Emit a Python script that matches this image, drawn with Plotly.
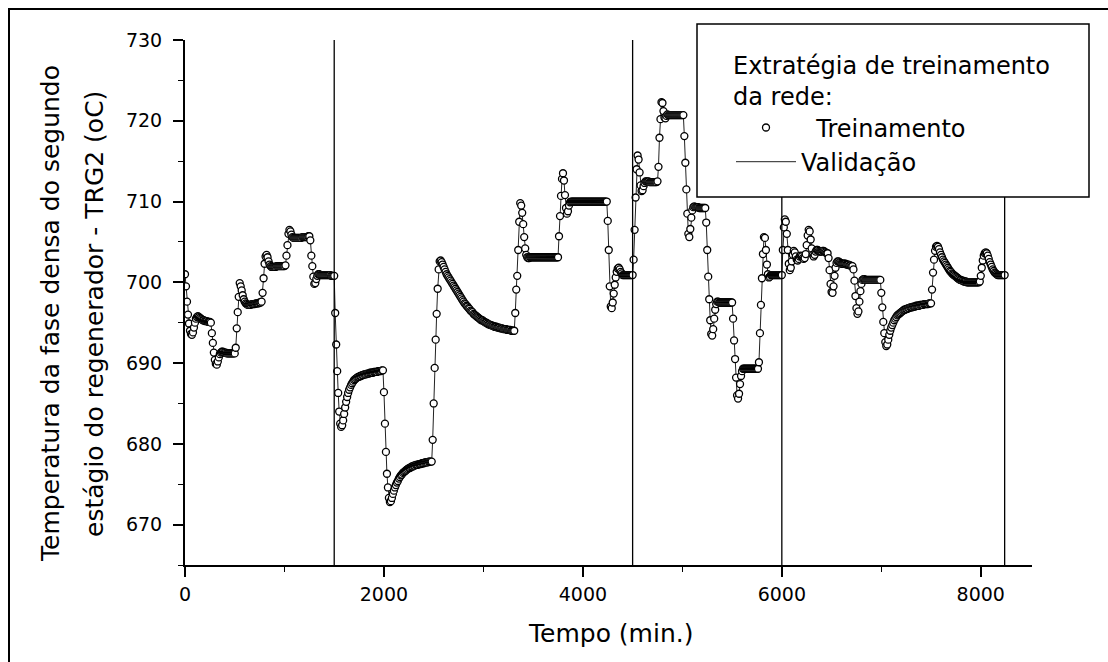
import plotly.graph_objects as go

# sampling interval of the series (minutes)
STEP = 10

# ---- series values (degC), one value every STEP min ----
seg1_start = 0
seg1 = [
    701.0, 699.5, 697.6, 696.0, 694.9, 694.0, 693.6, 693.5, 693.8, 694.4,
    695.0, 695.5, 695.7, 695.8, 695.7, 695.6, 695.5, 695.4, 695.3, 695.3,
    695.2, 695.2, 695.2, 695.1, 695.1, 695.1, 695.0, 693.7, 692.5, 691.3,
    690.4, 689.9, 689.8, 690.2, 690.7, 691.1, 691.3, 691.4, 691.4, 691.3,
    691.3, 691.3, 691.2, 691.2, 691.2, 691.2, 691.2, 691.2, 691.2, 691.2,
    691.2, 691.9, 694.3, 696.3, 698.2, 699.9, 699.5, 699.0, 698.4, 697.9,
    697.6, 697.4, 697.3, 697.2, 697.2, 697.2, 697.2, 697.3, 697.3, 697.3,
    697.3, 697.4, 697.4, 697.4, 697.4, 697.5, 697.5, 697.6, 698.7, 700.5,
    702.3, 703.2, 703.4, 703.1, 702.6, 702.2, 702.0, 701.9, 701.9, 701.9,
    701.9, 701.9, 702.0, 702.0, 702.0, 702.0, 702.0, 702.0, 702.0, 702.0,
    702.0, 702.1, 703.3, 704.6, 706.0, 706.5, 706.3, 705.9, 705.6, 705.5,
    705.5, 705.5, 705.5, 705.5, 705.5, 705.5, 705.5, 705.5, 705.6, 705.6,
    705.6, 705.6, 705.6, 705.6, 705.7, 705.7, 705.2, 703.3, 702.0, 700.7,
    699.8, 699.9, 700.4, 700.8, 701.0, 701.0, 700.9, 700.9, 700.9, 700.9,
    700.9, 700.9, 700.9, 700.9, 700.9, 700.9, 700.9, 700.8, 700.8, 700.8,
]

seg2_start = 1500
seg2 = [
    700.8, 696.2, 692.3, 689.0, 686.3, 684.0, 682.5, 682.1, 682.3, 682.9,
    683.7, 684.5, 685.2, 685.8, 686.3, 686.7, 687.0, 687.3, 687.5, 687.7,
    687.9, 688.0, 688.1, 688.2, 688.3, 688.3, 688.4, 688.4, 688.5, 688.5,
    688.6, 688.6, 688.6, 688.7, 688.7, 688.7, 688.8, 688.8, 688.8, 688.8,
    688.9, 688.9, 688.9, 688.9, 689.0, 689.0, 689.0, 689.0, 689.1, 689.1,
    686.4, 682.5, 679.0, 676.3, 674.6, 673.3, 672.8, 672.9, 673.3, 673.8,
    674.2, 674.6, 674.9, 675.2, 675.4, 675.7, 675.9, 676.1, 676.2, 676.4,
    676.5, 676.6, 676.7, 676.8, 676.9, 677.0, 677.0, 677.1, 677.2, 677.2,
    677.3, 677.3, 677.4, 677.4, 677.4, 677.5, 677.5, 677.5, 677.6, 677.6,
    677.6, 677.7, 677.7, 677.7, 677.7, 677.8, 677.8, 677.8, 677.8, 680.5,
    685.0, 689.4, 692.9, 696.1, 699.2, 701.6, 702.6, 702.7, 702.5, 702.2,
    701.9, 701.6, 701.3, 701.0, 700.8, 700.6, 700.4, 700.2, 700.0, 699.8,
    699.6, 699.4, 699.2, 699.0, 698.8, 698.6, 698.4, 698.2, 698.0, 697.8,
    697.6, 697.4, 697.3, 697.1, 697.0, 696.8, 696.7, 696.5, 696.4, 696.3,
    696.1, 696.0, 695.9, 695.8, 695.7, 695.6, 695.5, 695.4, 695.3, 695.3,
    695.2, 695.1, 695.0, 695.0, 694.9, 694.8, 694.8, 694.7, 694.7, 694.6,
    694.6, 694.5, 694.5, 694.5, 694.4, 694.4, 694.4, 694.3, 694.3, 694.3,
    694.2, 694.2, 694.2, 694.2, 694.1, 694.1, 694.1, 694.1, 694.0, 694.0,
    694.0, 694.0, 696.2, 699.1, 700.8, 704.0, 707.5, 709.8, 709.5, 708.6,
    707.2, 705.6, 704.2, 703.4, 703.1, 703.0, 703.0, 703.1, 703.1, 703.1,
    703.1, 703.1, 703.1, 703.1, 703.1, 703.1, 703.1, 703.1, 703.1, 703.1,
    703.1, 703.1, 703.1, 703.1, 703.1, 703.1, 703.1, 703.1, 703.1, 703.1,
    703.1, 703.1, 703.1, 703.1, 703.1, 703.1, 705.7, 708.2, 710.7, 712.8,
    713.5, 712.6, 710.8, 709.2, 708.5, 708.8, 709.5, 709.9, 710.0, 710.0,
    710.0, 710.0, 710.0, 710.0, 710.0, 710.0, 710.0, 710.0, 710.0, 710.0,
    710.0, 710.0, 710.0, 710.0, 710.0, 710.0, 710.0, 710.0, 710.0, 710.0,
    710.0, 710.0, 710.0, 710.0, 710.0, 710.0, 710.0, 710.0, 710.0, 710.0,
    710.0, 710.0, 710.0, 710.0, 710.0, 707.6, 704.0, 699.5, 697.0, 696.8,
    697.5, 698.6, 699.7, 700.6, 701.3, 701.7, 701.8, 701.6, 701.3, 701.1,
    700.9, 700.9, 700.9, 700.9, 700.9, 700.9, 700.9, 700.9, 700.9, 700.9,
]

seg3_start = 4500
seg3 = [
    700.9, 702.8, 706.5, 710.5, 714.0, 715.7, 715.2, 713.6, 712.0, 711.3,
    711.4, 711.9, 712.3, 712.5, 712.5, 712.5, 712.5, 712.4, 712.4, 712.4,
    712.4, 712.4, 712.4, 712.4, 712.4, 712.5, 714.3, 717.9, 720.2, 722.3,
    722.2, 721.2, 720.4, 720.3, 720.6, 720.8, 720.7, 720.7, 720.7, 720.7,
    720.7, 720.7, 720.7, 720.7, 720.7, 720.7, 720.7, 720.7, 720.7, 720.7,
    720.7, 720.7, 718.1, 714.8, 711.5, 708.5, 706.0, 705.6, 706.6, 708.0,
    708.9, 709.3, 709.4, 709.3, 709.3, 709.3, 709.3, 709.2, 709.2, 709.2,
    709.2, 709.2, 709.2, 709.2, 707.4, 704.0, 700.7, 697.9, 695.3, 693.6,
    693.4, 694.2, 695.5, 696.6, 697.3, 697.6, 697.6, 697.5, 697.5, 697.5,
    697.5, 697.5, 697.5, 697.5, 697.5, 697.5, 697.5, 697.5, 697.5, 697.5,
    697.5, 695.5, 692.8, 690.5, 688.2, 686.0, 685.6, 686.2, 687.4, 688.4,
    689.0, 689.3, 689.3, 689.3, 689.3, 689.3, 689.3, 689.3, 689.3, 689.3,
    689.3, 689.3, 689.3, 689.3, 689.3, 689.3, 689.3, 690.1, 693.7, 697.2,
    700.5, 703.5, 705.6, 705.5, 704.0, 702.2, 701.0, 700.6, 700.7, 700.9,
    700.9, 700.9, 700.9, 700.9, 700.9, 700.9, 700.9, 700.9, 700.9, 700.9,
]

seg4_start = 6000
seg4 = [
    700.9, 704.0, 706.8, 707.8, 707.5, 706.0, 704.0, 702.3, 701.5, 701.8,
    702.6, 703.4, 703.9, 703.7, 703.2, 702.8, 702.7, 702.9, 703.2, 703.3,
    703.2, 703.0, 702.9, 703.0, 703.5, 704.6, 705.8, 706.5, 706.3, 705.3,
    704.2, 703.4, 703.2, 703.4, 703.8, 704.0, 704.0, 703.9, 703.8, 703.8,
    703.8, 703.9, 703.9, 703.8, 703.7, 703.6, 703.6, 703.0, 701.5, 699.8,
    698.8, 698.7, 699.5, 700.8, 701.8, 702.4, 702.6, 702.6, 702.5, 702.4,
    702.3, 702.3, 702.3, 702.3, 702.3, 702.2, 702.2, 702.2, 702.1, 702.1,
    702.0, 702.0, 701.6, 700.2, 698.3, 696.8, 696.1, 696.4, 697.6, 698.9,
    699.8, 700.3, 700.4, 700.4, 700.3, 700.3, 700.3, 700.3, 700.3, 700.3,
    700.3, 700.3, 700.3, 700.3, 700.3, 700.3, 700.3, 700.3, 700.3, 700.3,
    698.7, 696.9, 695.1, 693.7, 692.6, 692.1, 692.3, 692.9, 693.5, 694.0,
    694.4, 694.7, 695.0, 695.3, 695.5, 695.7, 695.9, 696.0, 696.1, 696.2,
    696.3, 696.4, 696.5, 696.6, 696.6, 696.7, 696.7, 696.8, 696.8, 696.9,
    696.9, 696.9, 697.0, 697.0, 697.0, 697.1, 697.1, 697.1, 697.1, 697.2,
    697.2, 697.2, 697.2, 697.3, 697.3, 697.3, 697.3, 697.3, 697.4, 697.4,
    697.4, 699.1, 701.2, 702.8, 703.9, 704.4, 704.5, 704.4, 704.1, 703.7,
    703.4, 703.1, 702.8, 702.6, 702.4, 702.2, 702.0, 701.8, 701.6, 701.4,
    701.3, 701.1, 701.0, 700.9, 700.8, 700.7, 700.6, 700.5, 700.4, 700.3,
    700.3, 700.2, 700.2, 700.1, 700.1, 700.1, 700.0, 700.0, 700.0, 700.0,
    700.0, 700.0, 700.0, 700.0, 700.0, 700.0, 700.0, 700.0, 700.0, 700.1,
    700.8, 701.8, 702.7, 703.3, 703.6, 703.7, 703.6, 703.3, 702.9, 702.5,
    702.2, 701.9, 701.6, 701.4, 701.2, 701.1, 701.0, 700.9, 700.9, 700.9,
    700.9, 700.9, 700.9, 700.9, 700.9,
]

# vertical separators between training / validation stretches (min)
boundaries = [1500, 4500, 6000, 8240]

x_tick_vals = [0, 2000, 4000, 6000, 8000]
x_tick_text = ["0", "2000", "4000", "6000", "8000"]
y_tick_vals = [670, 680, 690, 700, 710, 720, 730]
y_tick_text = ["670", "680", "690", "700", "710", "720", "730"]

x_range = [0, 8515]
y_range = [665, 730]

name_train = "\u00a0\u00a0Treinamento"
name_valid = "Validação"
legend_title = "Extratégia de treinamento<br>da rede:"
x_title = "Tempo (min.)"
y_title_1 = "Temperatura da fase densa do segundo"
y_title_2 = "estágio do regenerador - TRG2 (oC)"

# ---- build the time axis for each stretch ----
t, temp = [], []
for start, vals in [(seg1_start, seg1), (seg2_start, seg2),
                    (seg3_start, seg3), (seg4_start, seg4)]:
    t += [start + STEP * i for i in range(len(vals))]
    temp += vals

W, H = 1108, 662
L, R, T, B = 185, 1032, 40, 565   # plot area in pixels
FONT = "DejaVu Sans"


def px(xp):
    return (xp - L) / (R - L)


def py(yp):
    return (B - yp) / (B - T)


fig = go.Figure()
fig.add_trace(go.Scatter(
    x=t, y=temp, mode="lines", name=name_valid, legendrank=2,
    line=dict(color="#222222", width=1),
))
fig.add_trace(go.Scatter(
    x=t, y=temp, mode="markers", name=name_train, legendrank=1,
    marker=dict(symbol="circle", size=7, color="white",
                line=dict(color="black", width=1.3)),
))

shapes = []
for b in boundaries:
    shapes.append(dict(type="line", xref="x", yref="paper", x0=b, x1=b,
                       y0=0, y1=1, line=dict(color="black", width=1.3),
                       layer="above"))
# legend box (opaque)
shapes.append(dict(type="rect", xref="paper", yref="paper",
                   x0=px(697), x1=px(1089), y0=py(197), y1=py(24),
                   fillcolor="white", line=dict(color="black", width=1.5),
                   layer="above"))
# outer figure frame
shapes.append(dict(type="rect", xref="paper", yref="paper",
                   x0=px(9), x1=px(1140), y0=py(690), y1=py(9),
                   fillcolor="rgba(0,0,0,0)", line=dict(color="black", width=2),
                   layer="above"))

annotations = [
    dict(text=y_title_1, xref="paper", yref="paper", x=px(50), y=py(314),
         textangle=-90, showarrow=False, xanchor="center", yanchor="middle",
         font=dict(family=FONT, size=25, color="black")),
    dict(text=y_title_2, xref="paper", yref="paper", x=px(94), y=py(314),
         textangle=-90, showarrow=False, xanchor="center", yanchor="middle",
         font=dict(family=FONT, size=25, color="black")),
    dict(text=x_title, xref="paper", yref="paper", x=px(610.5), y=py(633),
         showarrow=False, xanchor="center", yanchor="middle",
         font=dict(family=FONT, size=25, color="black")),
]

axis_common = dict(showgrid=False, zeroline=False, showline=True,
                   linecolor="black", linewidth=2, ticks="outside",
                   ticklen=10, tickwidth=1.6, tickcolor="black",
                   tickfont=dict(family=FONT, size=19, color="black"))

fig.update_layout(
    width=W, height=H,
    margin=dict(l=L, r=W - R, t=T, b=H - B, pad=0),
    paper_bgcolor="white", plot_bgcolor="white",
    font=dict(family=FONT, color="black"),
    shapes=shapes, annotations=annotations,
    showlegend=True,
    legend=dict(x=px(731), y=py(43), xanchor="left", yanchor="top",
                bgcolor="rgba(0,0,0,0)", borderwidth=0,
                font=dict(family=FONT, size=24, color="black"),
                title=dict(text=legend_title,
                           font=dict(family=FONT, size=24, color="black")),
                itemwidth=60, tracegroupgap=0),
    xaxis=dict(range=x_range, tickvals=x_tick_vals, ticktext=x_tick_text,
               minor=dict(dtick=1000, tick0=0, ticks="outside", ticklen=5,
                          tickwidth=1.4, tickcolor="black"),
               ticklabelstandoff=1, **axis_common),
    yaxis=dict(range=y_range, tickvals=y_tick_vals, ticktext=y_tick_text,
               minor=dict(dtick=5, tick0=0, ticks="outside", ticklen=5,
                          tickwidth=1.4, tickcolor="black"),
               ticklabelstandoff=7, **axis_common),
)

fig.write_html("out.html")
